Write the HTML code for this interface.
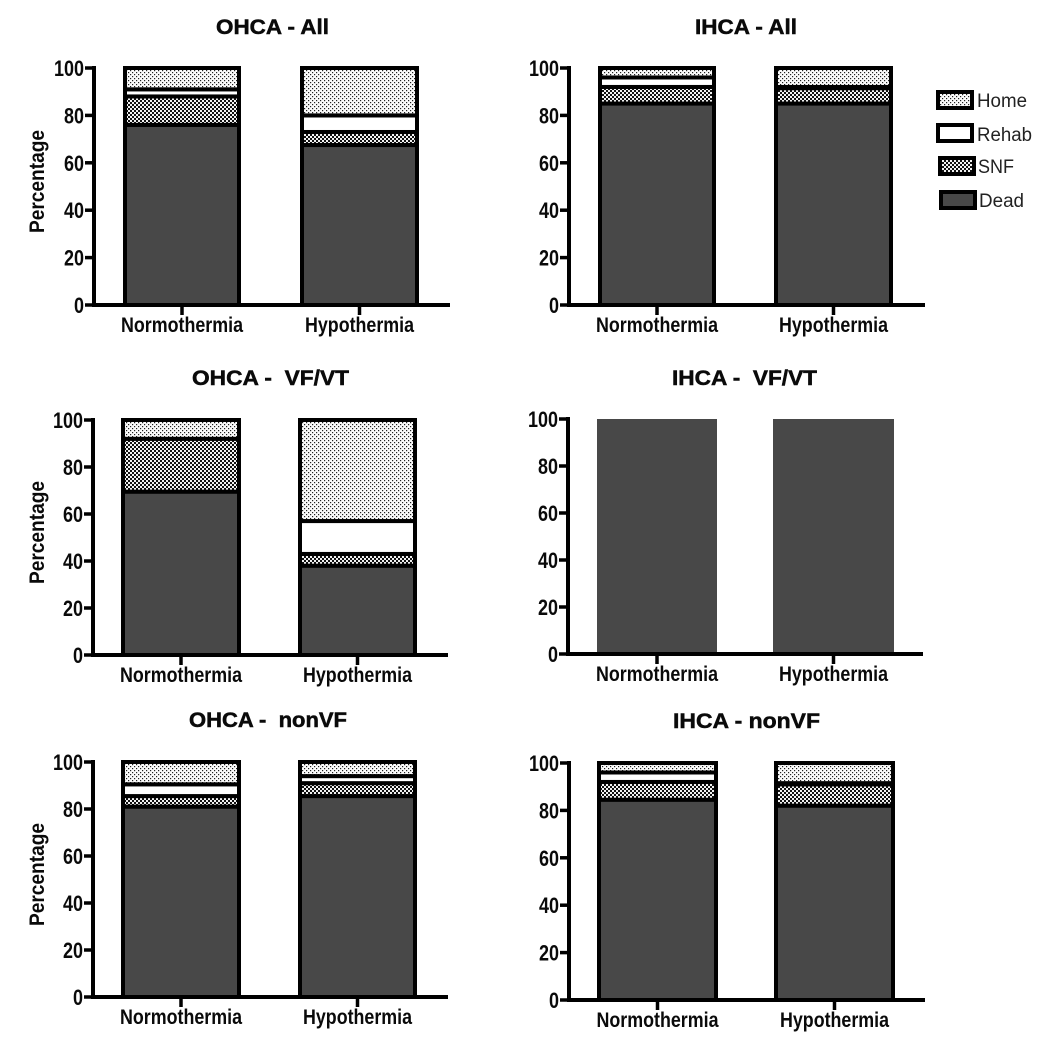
<!DOCTYPE html>
<html lang="en">
<head>
<meta charset="utf-8">
<title>Outcomes by arrest type and temperature management</title>
<style>
html,body{margin:0;padding:0;background:#fff;}
svg{display:block;filter:blur(0.35px);}
text{font-family:"Liberation Sans",Arial,sans-serif;white-space:pre;fill:#0a0a0a;}
.tick{font-weight:bold;font-size:22px;}
.cat{font-weight:bold;font-size:21px;}
.ylab{font-weight:bold;font-size:21px;}
.ttl{font-weight:bold;font-size:21px;stroke:#0a0a0a;stroke-width:0.5px;}
.leg{font-size:19px;fill:#222;}
</style>
</head>
<body>
<svg id="chart" xmlns="http://www.w3.org/2000/svg" width="1050" height="1043" viewBox="0 0 1050 1043">
  <defs>
    <pattern id="pat-home" width="4" height="4" patternUnits="userSpaceOnUse">
      <rect width="4" height="4" fill="#fbfbfb"/>
      <rect x="0" y="0" width="1.2" height="1.2" fill="#222"/>
      <rect x="2" y="2" width="1.2" height="1.2" fill="#222"/>
    </pattern>
    <pattern id="pat-snf" width="4" height="4" patternUnits="userSpaceOnUse">
      <rect width="4" height="4" fill="#f2f2f2"/>
      <rect x="0" y="0" width="2" height="2" fill="#111"/>
      <rect x="2" y="2" width="2" height="2" fill="#111"/>
    </pattern>
  </defs>
  <g id="panels"></g>
  <g id="legend">
    <g>
      <rect x="938" y="92" width="34" height="16" fill="url(#pat-home)" stroke="#000" stroke-width="4"/>
      <text class="leg" x="977" y="107" textLength="50" lengthAdjust="spacingAndGlyphs">Home</text>
    </g>
    <g>
      <rect x="938" y="125" width="34" height="16" fill="#fff" stroke="#000" stroke-width="4"/>
      <text class="leg" x="977" y="141" textLength="55" lengthAdjust="spacingAndGlyphs">Rehab</text>
    </g>
    <g>
      <rect x="940" y="158" width="34" height="16" fill="url(#pat-snf)" stroke="#000" stroke-width="4"/>
      <text class="leg" x="978" y="173" textLength="36" lengthAdjust="spacingAndGlyphs">SNF</text>
    </g>
    <g>
      <rect x="941" y="192" width="34" height="16" fill="#484848" stroke="#000" stroke-width="4"/>
      <text class="leg" x="979" y="207" textLength="45" lengthAdjust="spacingAndGlyphs">Dead</text>
    </g>
  </g>
</svg>
<script>
// Categories and tick labels
var categories = ['Normothermia', 'Hypothermia'];
var tickValues = [0, 20, 40, 60, 80, 100];

// Outcome percentages: [Normothermia, Hypothermia]
var ohcaAllDead = [76, 67.5];
var ohcaAllSnf = [12, 5.5];
var ohcaAllRehab = [3, 7];
var ohcaAllHome = [9, 20];

var ihcaAllDead = [85, 85];
var ihcaAllSnf = [7, 6.5];
var ihcaAllRehab = [4, 0.5];
var ihcaAllHome = [4, 8];

var ohcaVfDead = [69.5, 38];
var ohcaVfSnf = [22.5, 5];
var ohcaVfRehab = [0, 14];
var ohcaVfHome = [8, 43];

var ihcaVfDead = [100, 100];
var ihcaVfSnf = [0, 0];
var ihcaVfRehab = [0, 0];
var ihcaVfHome = [0, 0];

var ohcaNonVfDead = [81, 85.5];
var ohcaNonVfSnf = [4.5, 5.5];
var ohcaNonVfRehab = [5, 3];
var ohcaNonVfHome = [9.5, 6];

var ihcaNonVfDead = [84.5, 82];
var ihcaNonVfSnf = [7.5, 9];
var ihcaNonVfRehab = [4, 0.5];
var ihcaNonVfHome = [4, 8.5];

var seriesNames = ['dead', 'snf', 'rehab', 'home'];
var seriesFills = ['#484848', 'url(#pat-snf)', '#ffffff', 'url(#pat-home)'];

var panels = [
  {key:'ohca-all', title:'OHCA - All', tx:272.5, ty:34, tw:113, left:94, right:450, top:68, bottom:305, bars:[[123,241],[300,419]], ylabel:true,
   series:[ohcaAllDead, ohcaAllSnf, ohcaAllRehab, ohcaAllHome]},
  {key:'ihca-all', title:'IHCA - All', tx:746, ty:34, tw:102, left:569, right:925, top:68, bottom:305, bars:[[598,716],[774,893]], ylabel:false,
   series:[ihcaAllDead, ihcaAllSnf, ihcaAllRehab, ihcaAllHome]},
  {key:'ohca-vf', title:'OHCA -  VF/VT', tx:270.5, ty:385, tw:157, left:93, right:448, top:420, bottom:655, bars:[[121,241],[298,417]], ylabel:true,
   series:[ohcaVfDead, ohcaVfSnf, ohcaVfRehab, ohcaVfHome]},
  {key:'ihca-vf', title:'IHCA -  VF/VT', tx:744.5, ty:385, tw:145, left:568, right:923, top:419, bottom:654, bars:[[597,717],[773,894]], ylabel:false, noBorder:true,
   series:[ihcaVfDead, ihcaVfSnf, ihcaVfRehab, ihcaVfHome]},
  {key:'ohca-nonvf', title:'OHCA -  nonVF', tx:268, ty:727, tw:158, left:93, right:448, top:762, bottom:997, bars:[[121,241],[298,417]], ylabel:true,
   series:[ohcaNonVfDead, ohcaNonVfSnf, ohcaNonVfRehab, ohcaNonVfHome]},
  {key:'ihca-nonvf', title:'IHCA - nonVF', tx:746.5, ty:728, tw:147, left:569, right:925, top:763, bottom:1000, bars:[[597,718],[774,895]], ylabel:false,
   series:[ihcaNonVfDead, ihcaNonVfSnf, ihcaNonVfRehab, ihcaNonVfHome]}
];

var NS = 'http://www.w3.org/2000/svg';
function make(parent, tag, attrs, txt) {
  var el = document.createElementNS(NS, tag);
  for (var k in attrs) el.setAttribute(k, attrs[k]);
  if (txt !== undefined) el.textContent = txt;
  parent.appendChild(el);
  return el;
}
function yScale(p, v) { return p.bottom - (p.bottom - p.top) * v / 100; }

var root = document.getElementById('panels');
panels.forEach(function (p) {
  var g = make(root, 'g', {});
  
  

  var title = make(g, 'text', {'class':'ttl', x:p.tx, y:p.ty, 'text-anchor':'middle', textLength:p.tw, lengthAdjust:'spacingAndGlyphs'}, p.title);
  
  

  // Bars
  categories.forEach(function (cat, ci) {
    var x0 = p.bars[ci][0], x1 = p.bars[ci][1];
    var cum = 0;
    p.series.forEach(function (vals, si) {
      var v = vals[ci];
      if (v <= 0) return;
      var yBase = yScale(p, cum);
      var yTop = yScale(p, cum + v);
      cum += v;
      var inset = p.noBorder ? 0 : 2;
      var seg = make(g, 'rect', {
        x: x0 + inset,
        y: yTop,
        width: x1 - x0 - inset * 2,
        height: Math.max(0, yBase - yTop),
        fill: seriesFills[si],
        stroke: p.noBorder ? 'none' : '#000',
        'stroke-width': p.noBorder ? 0 : 4
      });
      
      
    });

    var cx = (x0 + x1) / 2;
    var xt = make(g, 'line', {x1:cx, x2:cx, y1:p.bottom, y2:p.bottom + 10, stroke:'#000', 'stroke-width':3.5});
    
    

    var lab = make(g, 'text', {'class':'cat', x:cx, y:p.bottom + 27, 'text-anchor':'middle', textLength: ci === 0 ? 122 : 109, lengthAdjust:'spacingAndGlyphs'}, cat);
    
    
  });

  // Axes
  var yAxis = make(g, 'line', {x1:p.left, x2:p.left, y1:p.top - 2, y2:p.bottom + 2, stroke:'#000', 'stroke-width':4});
  
  

  var xAxis = make(g, 'line', {x1:p.left - 2, x2:p.right, y1:p.bottom, y2:p.bottom, stroke:'#000', 'stroke-width':4});
  
  

  tickValues.forEach(function (t) {
    var y = yScale(p, t);
    var tk = make(g, 'line', {x1:p.left - 9, x2:p.left, y1:y, y2:y, stroke:'#000', 'stroke-width':3.5});
    
    

    var label = String(t);
    var tl = make(g, 'text', {'class':'tick', x:p.left - 10, y:y + 8, 'text-anchor':'end', textLength:label.length * 10, lengthAdjust:'spacingAndGlyphs'}, label);
    
    
  });

  if (p.ylabel) {
    var cy = (p.top + p.bottom) / 2 - 5;
    var yl = make(g, 'text', {'class':'ylab', 'text-anchor':'middle', transform:'translate(44 ' + cy + ') rotate(-90)', textLength:103, lengthAdjust:'spacingAndGlyphs'}, 'Percentage');
    
    
  }
});
</script>
</body>
</html>
